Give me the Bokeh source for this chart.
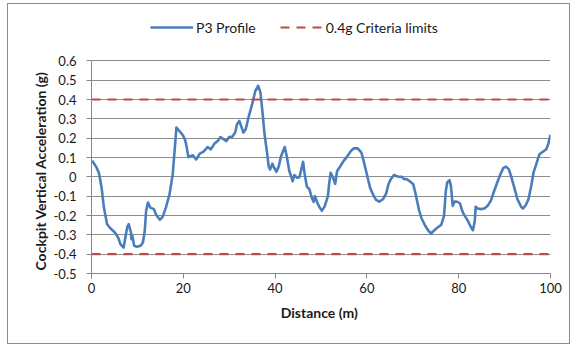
from bokeh.plotting import figure
from bokeh.models import (FixedTicker, CustomJSTickFormatter, Legend, LegendItem,
                          Range1d, Title)
from bokeh.embed import file_html
from bokeh.resources import INLINE

# Distance along the run (m) and cockpit vertical acceleration (g)
distance = [0.15, 1.0, 1.6, 2.2, 2.7, 3.4, 4.1, 5.1, 5.8, 6.3, 7.0, 7.4, 7.8, 8.1,
            8.6, 8.7, 8.9, 9.3, 9.9, 10.7, 11.2, 11.6, 11.9, 12.3, 12.8, 13.6, 14.1,
            14.9, 15.5, 16.2, 17.0, 17.7, 18.1, 18.5, 19.0, 19.9, 20.4, 20.7, 21.1,
            21.5, 22.1, 22.8, 23.6, 24.4, 25.3, 26.0, 26.8, 27.5, 28.1, 28.8, 29.4,
            30.0, 30.7, 31.3, 31.7, 32.2, 32.6, 33.1, 33.6, 34.2, 35.0, 35.7, 36.3,
            36.8, 37.3, 37.7, 38.2, 38.6, 38.9, 39.4, 39.8, 40.3, 40.8, 41.3, 42.1,
            42.6, 43.1, 43.5, 43.8, 44.2, 44.8, 45.3, 45.7, 46.1, 46.4, 46.9, 47.5,
            48.0, 48.4, 48.7, 49.2, 49.7, 50.2, 50.8, 51.5, 51.8, 52.1, 52.5, 53.1,
            53.5, 54.2, 54.9, 55.6, 56.4, 57.1, 58.0, 58.8, 59.3, 60.0, 60.7, 61.4,
            62.0, 62.7, 63.5, 64.2, 64.7, 65.2, 65.9, 66.7, 67.6, 68.1, 68.7, 69.4,
            70.1, 70.7, 71.4, 71.9, 72.7, 73.4, 74.0, 74.7, 75.4, 76.2, 76.8, 77.2,
            77.5, 78.0, 78.3, 78.7, 79.1, 79.7, 80.3, 80.7, 81.1, 82.0, 82.7, 83.1,
            83.5, 83.7, 84.1, 84.9, 85.6, 86.3, 87.0, 87.6, 88.4, 89.1, 89.7, 90.3,
            90.9, 91.4, 92.1, 92.8, 93.6, 94.0, 94.6, 95.2, 95.8, 96.3, 96.9, 97.6,
            98.4, 99.1, 99.5, 100.0]
accel = [0.083, 0.052, 0.022, -0.055, -0.159, -0.245, -0.266, -0.288, -0.314, -0.348,
         -0.366, -0.31, -0.259, -0.245, -0.288, -0.322, -0.305, -0.357, -0.362, -0.357,
         -0.34, -0.28, -0.176, -0.133, -0.159, -0.167, -0.197, -0.222, -0.207, -0.159,
         -0.09, 0.014, 0.134, 0.255, 0.241, 0.216, 0.19, 0.159, 0.102, 0.107, 0.111,
         0.09, 0.12, 0.13, 0.154, 0.142, 0.172, 0.185, 0.206, 0.194, 0.185, 0.206,
         0.208, 0.229, 0.272, 0.289, 0.263, 0.229, 0.246, 0.307, 0.376, 0.445, 0.471,
         0.437, 0.324, 0.22, 0.133, 0.055, 0.038, 0.068, 0.047, 0.026, 0.055, 0.107,
         0.154, 0.099, 0.029, 0.003, -0.023, 0.009, -0.005, -0.002, 0.038, 0.078,
         0.021, -0.049, -0.066, -0.109, -0.13, -0.1, -0.135, -0.158, -0.175, -0.153,
         -0.1, -0.031, 0.021, 0.003, -0.036, 0.029, 0.055, 0.081, 0.102, 0.13, 0.147,
         0.147, 0.125, 0.081, 0.012, -0.057, -0.095, -0.119, -0.128, -0.116, -0.086,
         -0.038, -0.012, 0.009, 0.002, 0.0, -0.012, -0.012, -0.024, -0.038, -0.098,
         -0.176, -0.214, -0.253, -0.279, -0.293, -0.276, -0.262, -0.248, -0.202,
         -0.072, -0.029, -0.017, -0.047, -0.15, -0.128, -0.129, -0.138, -0.172,
         -0.193, -0.228, -0.262, -0.276, -0.228, -0.155, -0.164, -0.167, -0.164,
         -0.15, -0.124, -0.081, -0.029, 0.014, 0.045, 0.053, 0.04, 0.005, -0.055,
         -0.116, -0.155, -0.164, -0.147, -0.116, -0.047, 0.022, 0.066, 0.117, 0.131,
         0.143, 0.169, 0.217]

criteria_limit = 0.4
limit_span = [0, 100]

x_ticks = [0, 20, 40, 60, 80, 100]
y_ticks = [-0.5, -0.4, -0.3, -0.2, -0.1, 0.0, 0.1, 0.2, 0.3, 0.4, 0.5, 0.6]

FONT = "Lato"
AXIS_GREY = "#868686"
TEXT = "#1a1a1a"

# the frame reaches up past 0.6 to leave a band for the legend;
# axis and grid are bounded to the tick span
Y_LO, Y_HI, Y_FRAME_TOP = -0.5, 0.6, 0.85

p = figure(width=561, height=339, output_backend="svg", toolbar_location=None,
           x_range=Range1d(0, 100), y_range=Range1d(Y_LO, Y_FRAME_TOP),
           min_border_left=83, min_border_right=19,
           min_border_top=8, min_border_bottom=70)
p.margin = (4, 0, 0, 8)
p.styles = {"outline": "1px solid #8c8c8c"}
p.outline_line_color = None
p.background_fill_color = "white"
p.border_fill_color = "white"

blue = p.line(distance, accel, line_color="#4A7EBB", line_width=2.6,
              line_join="round")
upper = p.line(limit_span, [criteria_limit] * 2, line_color="#BE4B48",
               line_width=2.2, line_dash="9 7")
p.line(limit_span, [-criteria_limit] * 2, line_color="#BE4B48",
       line_width=2.2, line_dash="9 7")

# axes
p.xaxis.ticker = FixedTicker(ticks=x_ticks)
p.yaxis.ticker = FixedTicker(ticks=y_ticks)
p.yaxis.bounds = (Y_LO, Y_HI)
p.yaxis.formatter = CustomJSTickFormatter(
    code="return Math.abs(tick) < 1e-9 ? '0' : tick.toFixed(1);")

for ax in (p.xaxis[0], p.yaxis[0]):
    ax.axis_line_color = AXIS_GREY
    ax.major_tick_line_color = AXIS_GREY
    ax.major_tick_in = 0
    ax.major_tick_out = 5
    ax.minor_tick_line_color = None
    ax.major_label_text_font = FONT
    ax.major_label_text_font_size = "13px"
    ax.major_label_text_color = TEXT
    ax.axis_label_text_font = FONT
    ax.axis_label_text_font_style = "bold"
    ax.axis_label_text_font_size = "14px"
    ax.axis_label_text_color = TEXT

p.xaxis.axis_label = "Distance  (m)"
p.xaxis.major_label_standoff = 4
p.xaxis.axis_label_standoff = 8
p.yaxis.major_label_standoff = 10

# vertical title anchored near the bottom of the tick span
p.add_layout(Title(text="Cockpit Vertical Acceleration (g)", align="left",
                   offset=3, standoff=4, text_font=FONT, text_font_style="bold",
                   text_font_size="14px", text_color=TEXT), "left")

p.xgrid.grid_line_color = None
p.ygrid.grid_line_color = "#8c8c8c"
p.ygrid.grid_line_width = 1
p.ygrid.bounds = (0, 100)

legend = Legend(items=[LegendItem(label="P3 Profile", renderers=[blue]),
                       LegendItem(label="0.4g Criteria limits", renderers=[upper])],
                orientation="horizontal", location=(59, 236),
                border_line_color=None, background_fill_alpha=0,
                glyph_width=43, label_standoff=3, spacing=24, padding=0,
                label_text_font=FONT, label_text_font_size="14px",
                label_text_color=TEXT)
p.add_layout(legend)

open("out.html", "w").write(file_html(p, INLINE))
